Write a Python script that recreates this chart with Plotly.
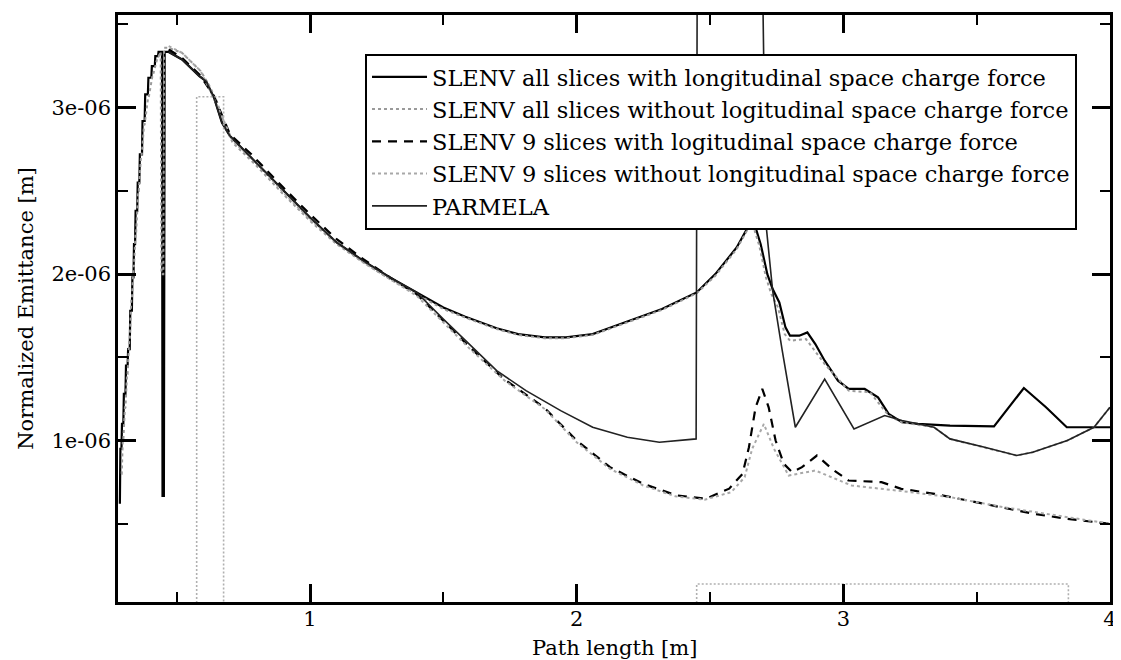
import numpy as np
import plotly.graph_objects as go

E = 1e-6  # values below are in units of 1e-6 m

# ---- SLENV all slices with longitudinal space charge force ----
s1_x = [0.287, 0.289, 0.293, 0.295, 0.300, 0.302, 0.308, 0.310, 0.316, 0.318, 0.324, 0.326,
        0.332, 0.334, 0.338, 0.340, 0.344, 0.346, 0.352, 0.354, 0.360, 0.362, 0.370, 0.372,
        0.380, 0.382, 0.392, 0.394, 0.405, 0.407, 0.418, 0.420, 0.430, 0.432, 0.445, 0.447,
        0.452, 0.455, 0.470, 0.52, 0.585, 0.61, 0.64, 0.67, 0.70, 0.78, 0.90, 1.00, 1.10,
        1.20, 1.30, 1.40, 1.50, 1.58, 1.70, 1.78, 1.88, 1.96, 2.06, 2.19, 2.32, 2.45, 2.52,
        2.60, 2.645, 2.665, 2.69, 2.715, 2.735, 2.76, 2.783, 2.80, 2.835, 2.865, 2.895, 2.93,
        2.98, 3.02, 3.08, 3.13, 3.17, 3.22, 3.28, 3.40, 3.565, 3.677, 3.76, 3.838, 4.0]
s1_y = [0.62, 0.95, 0.95, 1.10, 1.10, 1.28, 1.28, 1.45, 1.45, 1.55, 1.55, 1.78,
        1.78, 1.98, 1.98, 2.18, 2.18, 2.38, 2.38, 2.55, 2.55, 2.72, 2.72, 2.92,
        2.92, 3.08, 3.08, 3.18, 3.18, 3.25, 3.25, 3.31, 3.31, 3.335, 3.335, 0.667,
        0.667, 3.335, 3.335, 3.29, 3.19, 3.16, 3.06, 2.91, 2.83, 2.70, 2.50, 2.34, 2.19,
        2.08, 1.98, 1.89, 1.80, 1.745, 1.675, 1.640, 1.620, 1.620, 1.640, 1.715, 1.79, 1.89, 2.00,
        2.16, 2.29, 2.31, 2.18, 2.00, 1.91, 1.83, 1.68, 1.63, 1.63, 1.65, 1.58, 1.48,
        1.36, 1.31, 1.31, 1.26, 1.16, 1.11, 1.10, 1.09, 1.085, 1.316, 1.20, 1.08, 1.08]

# ---- SLENV all slices without longitudinal space charge force ----
s2_x = [0.292, 0.294, 0.298, 0.300, 0.306, 0.308, 0.314, 0.316, 0.322, 0.324, 0.330, 0.332,
        0.338, 0.340, 0.346, 0.348, 0.356, 0.358, 0.366, 0.368, 0.378, 0.380, 0.392, 0.394,
        0.410, 0.412, 0.428, 0.430, 0.440, 0.443, 0.450, 0.453, 0.470, 0.52, 0.59, 0.62,
        0.65, 0.68, 0.71, 0.80, 0.90, 1.00, 1.10, 1.20, 1.30, 1.40, 1.50, 1.58, 1.70, 1.78,
        1.88, 1.96, 2.06, 2.19, 2.32, 2.45, 2.52, 2.60, 2.645, 2.66, 2.685, 2.71, 2.73, 2.755,
        2.78, 2.80, 2.86, 2.93, 3.02, 3.10, 3.17, 3.22, 3.34, 3.40, 3.53, 3.65, 3.71, 3.84,
        3.94, 4.0]
s2_y = [0.80, 0.80, 1.00, 1.00, 1.20, 1.20, 1.40, 1.40, 1.60, 1.60, 1.85, 1.85,
        2.05, 2.05, 2.25, 2.25, 2.50, 2.50, 2.70, 2.70, 2.90, 2.90, 3.05, 3.05,
        3.20, 3.20, 3.30, 3.30, 3.335, 2.00, 2.00, 3.36, 3.36, 3.33, 3.22, 3.14,
        3.04, 2.90, 2.79, 2.65, 2.48, 2.32, 2.18, 2.07, 1.97, 1.88, 1.79, 1.74, 1.67, 1.635,
        1.615, 1.615, 1.635, 1.71, 1.785, 1.885, 1.99, 2.15, 2.28, 2.30, 2.17, 1.98, 1.88, 1.80,
        1.64, 1.60, 1.61, 1.46, 1.30, 1.29, 1.15, 1.11, 1.08, 1.01, 0.96, 0.91, 0.93, 1.00,
        1.08, 1.20]

# ---- SLENV 9 slices with longitudinal space charge force ----
s3_x = [0.47, 0.52, 0.585, 0.64, 0.70, 0.78, 0.90, 1.00, 1.10, 1.20, 1.30, 1.40, 1.50,
        1.60, 1.727, 1.877, 2.00, 2.125, 2.249, 2.373, 2.485, 2.572, 2.622, 2.646, 2.671,
        2.696, 2.72, 2.746, 2.777, 2.808, 2.845, 2.901, 2.957, 3.019, 3.143, 3.217, 3.342,
        3.466, 3.59, 3.714, 3.838, 3.987, 4.0]
s3_y = [3.35, 3.30, 3.20, 3.07, 2.84, 2.72, 2.52, 2.36, 2.21, 2.09, 1.98, 1.88, 1.72,
        1.56, 1.37, 1.20, 1.00, 0.84, 0.74, 0.671, 0.651, 0.711, 0.80, 0.96, 1.20,
        1.31, 1.20, 1.00, 0.86, 0.81, 0.84, 0.91, 0.83, 0.76, 0.75, 0.71, 0.68,
        0.64, 0.60, 0.56, 0.53, 0.50, 0.50]

# ---- SLENV 9 slices without longitudinal space charge force ----
s4_x = [0.47, 0.52, 0.59, 0.65, 0.71, 0.80, 0.90, 1.00, 1.10, 1.20, 1.30, 1.40, 1.50,
        1.60, 1.73, 1.88, 2.00, 2.125, 2.25, 2.37, 2.48, 2.58, 2.63, 2.658, 2.702, 2.74,
        2.795, 2.895, 3.031, 3.20, 3.40, 3.60, 3.80, 4.0]
s4_y = [3.37, 3.33, 3.22, 3.02, 2.80, 2.67, 2.49, 2.33, 2.19, 2.07, 1.97, 1.87, 1.71,
        1.55, 1.36, 1.19, 0.99, 0.83, 0.73, 0.665, 0.645, 0.69, 0.78, 0.95, 1.10, 0.95,
        0.79, 0.82, 0.73, 0.70, 0.66, 0.60, 0.55, 0.50]

# grey dotted boxes drawn in the original figure
box_x = [0.575, 0.575, 0.676, 0.676, None, 2.45, 2.45, 3.844, 3.844]
box_y = [0.0, 3.066, 3.066, 0.0, None, 0.0, 0.138, 0.138, 0.0]

# ---- PARMELA ----
pm_x = [0.47, 0.52, 0.585, 0.61, 0.64, 0.67, 0.70, 0.78, 0.90, 1.00, 1.10, 1.20, 1.30,
        1.40, 1.50, 1.63, 1.70, 1.81, 1.94, 2.06, 2.19, 2.31, 2.448, 2.452, 2.697, 2.71,
        2.735, 2.77, 2.82, 2.93, 3.04, 3.155, 3.22, 3.34, 3.40, 3.53, 3.65, 3.71, 3.84,
        3.94, 4.0]
pm_y = [3.335, 3.29, 3.19, 3.16, 3.06, 2.91, 2.83, 2.70, 2.50, 2.34, 2.19, 2.08, 1.98,
        1.89, 1.73, 1.53, 1.42, 1.30, 1.18, 1.08, 1.02, 0.99, 1.01, 3.80, 3.80, 2.30,
        1.90, 1.55, 1.08, 1.37, 1.07, 1.15, 1.12, 1.08, 1.01, 0.96, 0.91, 0.93, 1.00,
        1.08, 1.20]

names = ["SLENV all slices with longitudinal space charge force",
         "SLENV all slices without logitudinal space charge force",
         "SLENV 9 slices with logitudinal space charge force",
         "SLENV 9 slices without longitudinal space charge force",
         "PARMELA"]

x_title = "Path length [m]"
y_title = "Normalized Emittance [m]"
x_ticks = [1, 2, 3, 4]
x_ticklabels = ["1", "2", "3", "4"]
y_ticks = [1, 2, 3]
y_ticklabels = ["1e-06", "2e-06", "3e-06"]


def sc(v):
    return [None if a is None else a * E for a in v]


fig = go.Figure()
fig.add_trace(go.Scatter(x=s1_x, y=sc(s1_y), mode="lines", name=names[0],
                         line=dict(color="black", width=2.2)))
fig.add_trace(go.Scatter(x=s2_x, y=sc(s2_y), mode="lines", name=names[1],
                         line=dict(color="#9a9a9a", width=2, dash="dot")))
fig.add_trace(go.Scatter(x=s3_x, y=sc(s3_y), mode="lines", name=names[2],
                         line=dict(color="black", width=2.2, dash="9px,7px")))
fig.add_trace(go.Scatter(x=s4_x, y=sc(s4_y), mode="lines", name=names[3],
                         line=dict(color="#a8a8a8", width=2, dash="3px,3px")))
fig.add_trace(go.Scatter(x=pm_x, y=sc(pm_y), mode="lines", name=names[4],
                         line=dict(color="#222222", width=1.6)))
fig.add_trace(go.Scatter(x=box_x, y=sc(box_y), mode="lines", showlegend=False,
                         line=dict(color="#b0b0b0", width=1.6, dash="2px,2px")))

font = "DejaVu Serif, Liberation Serif, serif"
axis_common = dict(showline=True, linecolor="black", linewidth=2.5, mirror="ticks",
                   ticks="inside", ticklen=18, tickwidth=2.5, tickcolor="black",
                   showgrid=False, zeroline=False,
                   tickfont=dict(family=font, size=21, color="black"))

# the page body adds an 8 px margin, so the figure is sized to the remaining window
fig.update_layout(
    width=1113, height=652,
    margin=dict(l=110, r=4, t=5, b=58),
    paper_bgcolor="white", plot_bgcolor="white",
    font=dict(family=font, color="black"),
    xaxis=dict(range=[0.28, 4.0], tickvals=x_ticks, ticktext=x_ticklabels,
               ticklabelposition="outside", ticklabelstandoff=-4,
               minor=dict(dtick=0.5, tick0=0, ticks="inside", ticklen=10, tickwidth=2,
                          tickcolor="black"),
               **axis_common),
    yaxis=dict(range=[0.03 * E, 3.557 * E], tickvals=[v * E for v in y_ticks],
               ticktext=y_ticklabels,
               minor=dict(dtick=0.5 * E, tick0=0, ticks="inside", ticklen=10, tickwidth=2,
                          tickcolor="black"),
               title=dict(text=y_title, font=dict(family=font, size=21),
                          standoff=13),
               **axis_common),
    legend=dict(x=0.249, y=0.934, xanchor="left", yanchor="top",
                bgcolor="white", bordercolor="black", borderwidth=2,
                font=dict(family=font, size=22.5, color="black"),
                itemwidth=55, tracegroupgap=0),
    showlegend=True,
    annotations=[dict(text=x_title, xref="paper", yref="paper", x=0.5, y=0,
                      xanchor="center", yanchor="top", yshift=-32, showarrow=False,
                      font=dict(family=font, size=21, color="black"))],
)

fig.write_html("out.html")
